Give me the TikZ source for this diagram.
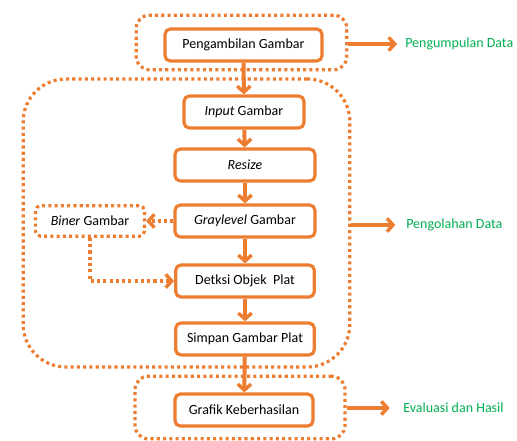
\documentclass[tikz,border=0pt]{standalone}
\usepackage{fontspec}
\setmainfont{Carlito}
\usepackage{xcolor}
\usetikzlibrary{arrows.meta}
\definecolor{oranye}{HTML}{ED7D31}
\definecolor{hijau}{HTML}{00B050}
\tikzset{
	proses/.style={
			draw=oranye, line width=2.4pt, rounded corners=4pt,
			inner sep=0pt, minimum height=24pt, font=\fontsize{10.5}{12}\selectfont
		},
	grup/.style={
			draw=oranye, line width=2.4pt, dash pattern=on 2.3pt off 2.4pt,
			rounded corners=#1, inner sep=0pt
		},
	grup/.default=10pt,
	panah/.style={
			draw=oranye, line width=3pt,
			-{Straight Barb[length=4.5pt,width=10pt,line width=2.6pt]}
		},
	panahtitik/.style={
			draw=oranye, line width=3pt, dash pattern=on 2.3pt off 2.4pt,
			-{Straight Barb[length=4.5pt,width=10pt,line width=2.6pt]}
		},
	tahap/.style={
			text=hijau, inner sep=0pt, anchor=west, font=\fontsize{10.5}{12}\selectfont
		}
}

\begin{document}
\begin{tikzpicture}[x=0.75pt, y=0.75pt]
	\useasboundingbox (0,0) rectangle (517,441);

	% kelompok tahap
	\node[grup, minimum width=158pt, minimum height=41pt] (atas) at (241.5,398.5) {};
	\node[grup=32pt, minimum width=245pt, minimum height=216pt] (tengah) at (186.5,218) {};
	\node[grup, minimum width=157.5pt, minimum height=47pt] (bawah) at (240,33.5) {};

	% proses
	\node[proses, minimum width=117.75pt] (ambil) at (243.5,396) {Pengambilan Gambar};
	\node[proses, minimum width=90pt] (input) at (244,329) {\textit{Input} Gambar};
	\node[proses, minimum width=105pt] (resize) at (245,276) {\textit{Resize}};
	\node[proses, minimum width=105pt] (gray) at (245,220) {\textit{Graylevel} Gambar};
	\node[proses, minimum width=104pt] (deteksi) at (245,160) {Detksi Objek~ Plat};
	\node[proses, minimum width=104pt] (simpan) at (245,102) {Simpan Gambar Plat};
	\node[proses, minimum width=103.5pt] (grafik) at (244,31) {Grafik Keberhasilan};
	\node[proses, grup=4pt, minimum width=81.75pt, minimum height=23pt, font=\fontsize{10.5}{12}\selectfont] (biner) at (90,220) {\textit{Biner} Gambar};

	% keterangan
	\node[tahap] (kumpul) at (405,397) {Pengumpulan Data};
	\node[tahap] (olah) at (406,216) {Pengolahan Data};
	\node[tahap] (evaluasi) at (403,33) {Evaluasi dan Hasil};

	\draw[panah] (ambil) -- (input);
	\draw[panah] (input) -- (resize);
	\draw[panah] (resize) -- (gray);
	\draw[panah] (gray) -- (deteksi);
	\draw[panah] (deteksi) -- (simpan);
	\draw[panah] (simpan) -- (grafik);
	\draw[panahtitik] (gray) -- (biner);
	\draw[panahtitik] (biner.south) |- (deteksi.west);

	\draw[panah, shorten >=6pt] (atas.east |- kumpul) -- (kumpul.west);
	\draw[panah, shorten >=8pt] (tengah.east |- olah) -- (olah.west);
	\draw[panah, shorten >=10pt] (bawah.east |- evaluasi) -- (evaluasi.west);
\end{tikzpicture}
\end{document}
